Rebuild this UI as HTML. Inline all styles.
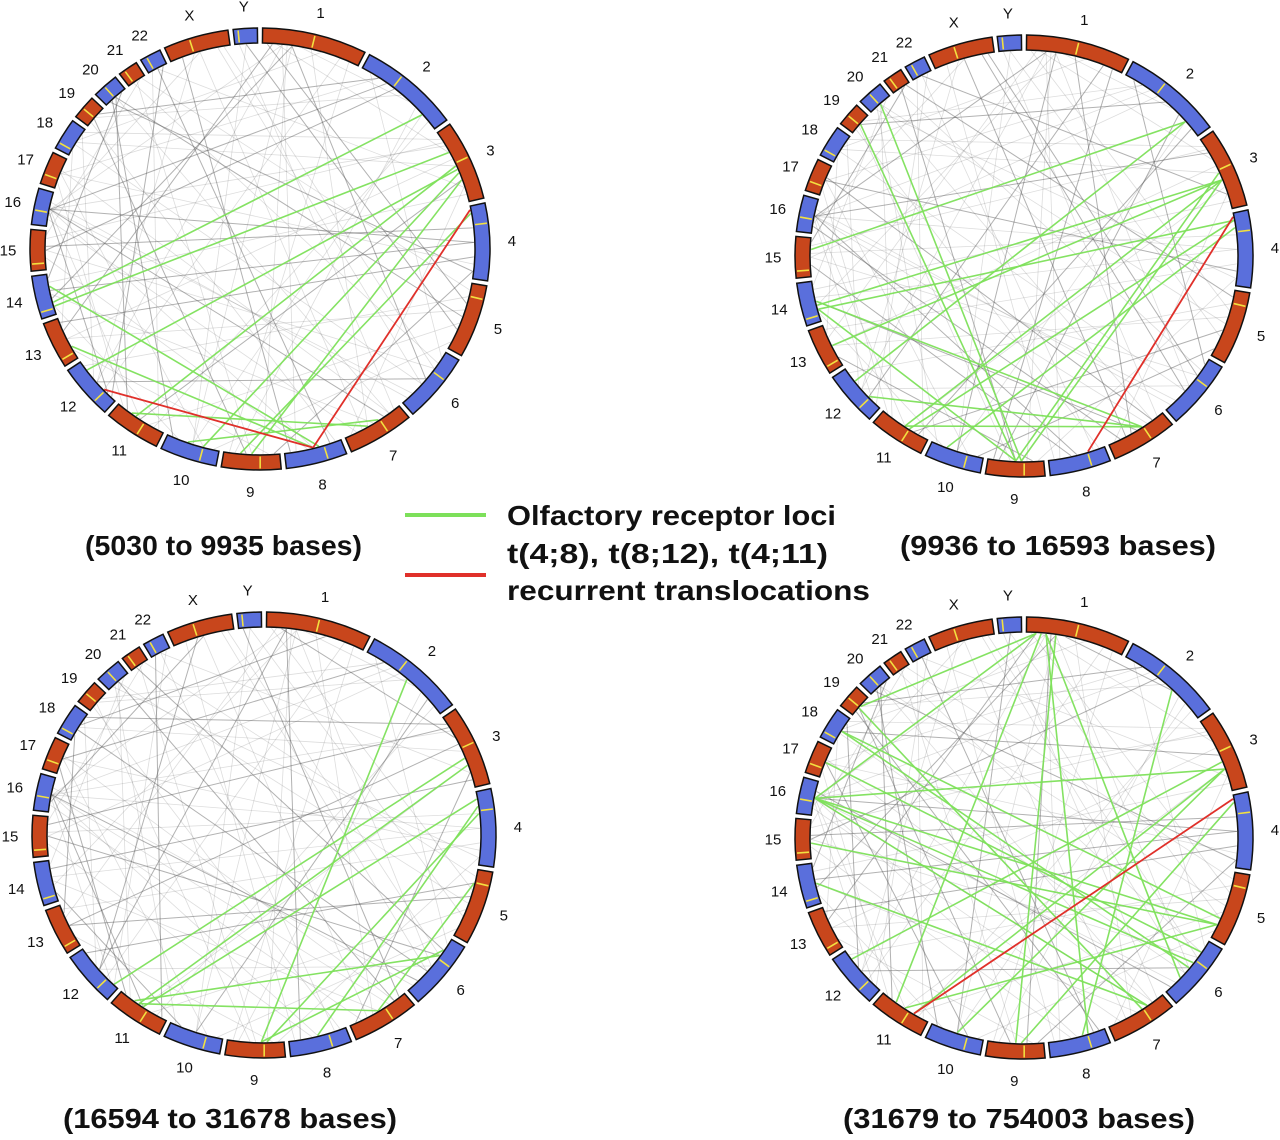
<!DOCTYPE html>
<html><head><meta charset="utf-8"><style>
html,body{margin:0;padding:0;background:#fff;}
svg{display:block;font-family:"Liberation Sans",sans-serif;}
.cap{font-weight:bold;font-size:28px;fill:#111;}
.lab{font-size:15px;fill:#111;}
</style></head><body>
<svg id="fig" width="1280" height="1140" viewBox="0 0 1280 1140">
<g id="legend">
<line x1="405" y1="515" x2="486" y2="515" stroke="#7de05a" stroke-width="4"/>
<text class="cap" x="507" y="525" textLength="329" lengthAdjust="spacingAndGlyphs">Olfactory receptor loci</text>
<text class="cap" x="507" y="563" textLength="321" lengthAdjust="spacingAndGlyphs">t(4;8), t(8;12), t(4;11)</text>
<line x1="405" y1="575" x2="486" y2="575" stroke="#e0302a" stroke-width="4"/>
<text class="cap" x="507" y="600" textLength="363" lengthAdjust="spacingAndGlyphs">recurrent  translocations</text>
</g>
<text class="cap" x="85" y="555" textLength="277" lengthAdjust="spacingAndGlyphs">(5030 to 9935 bases)</text>
<text class="cap" x="900" y="555" textLength="316" lengthAdjust="spacingAndGlyphs">(9936 to 16593 bases)</text>
<text class="cap" x="63" y="1128" textLength="334" lengthAdjust="spacingAndGlyphs">(16594 to 31678 bases)</text>
<text class="cap" x="843" y="1128" textLength="352" lengthAdjust="spacingAndGlyphs">(31679 to 754003 bases)</text>
</svg>
<script>
const chrNames=["1","2","3","4","5","6","7","8","9","10","11","12","13","14","15","16","17","18","19","20","21","22","X","Y"];
const chrLengths=[249,243,198,191,181,171,159,146,141,136,135,134,115,107,102,90,81,78,59,63,48,51,155,57];
const centromeres=[.5,.38,.46,.26,.19,.35,.38,.31,.35,.3,.4,.27,.15,.15,.17,.4,.3,.2,.45,.45,.3,.3,.4,.2];
const grayLinks=[[16,.5,2,.3],[16,.5,3,.2],[16,.5,6,.8],[16,.5,7,.3],[16,.5,8,.5],[16,.5,11,.5],[16,.5,4,.5],[16,.5,1,.2],[1,.2,8,.8],[1,.25,9,.3],[1,.3,6,.5],[1,.3,10,.5],[1,.2,12,.5],[1,.3,14,.4],[1,.5,7,.6],[2,.2,17,.5],[2,.4,15,.5],[2,.5,19,.5],[3,.4,13,.5],[3,.5,18,.5],[5,.5,20,.5],[5,.6,11,.3],[6,.3,15,.5],[6,.5,12,.5],[7,.5,14,.5],[7,.2,20,.5],[8,.2,22,.5],[9,.5,21,.5],[10,.5,2,.8],[10,.3,17,.5],[11,.5,3,.7],[12,.3,1,.8],[13,.5,5,.4],[14,.6,4,.5],[15,.3,8,.6],[18,.4,6,.6],[19,.4,9,.6],[23,.5,7,.7],[23,.4,12,.5],[24,.5,10,.5],[24,.5,5,.7],[22,.5,3,.8],[21,.3,6,.2],[20,.5,11,.8],[17,.5,4,.8],[16,.3,23,.5],[1,.1,13,.7],[2,.7,9,.8],[1,.15,3,.3],[1,.4,2,.6],[16,.4,12,.2],[17,.6,7,.2],[18,.6,1,.6],[19,.7,2,.2],[13,.2,9,.2],[14,.2,10,.8],[15,.6,4,.3],[2,.9,11,.2],[3,.9,14,.8],[6,.9,16,.7],[8,.9,23,.2],[9,.9,1,.9],[5,.2,12,.9],[4,.7,13,.9],[7,.8,16,.2],[11,.1,22,.2],[10,.9,20,.3],[6,.6,23,.8],[3,.15,15,.8],[12,.6,18,.8],[1,.05,5,.3],[2,.1,6,.1],[3,.8,7,.9],[4,.9,9,.1],[5,.9,10,.1],[13,.8,18,.2],[14,.9,20,.8],[15,.9,21,.7],[17,.2,11,.9],[19,.2,8,.1],[22,.8,12,.1],[23,.9,6,.3],[24,.2,7,.1],[20,.2,4,.9],[21,.8,5,.1],[18,.9,3,.1]];
const panels=[
 {cx:260,cy:249,rx:230,ry:221,
  green:[[2,.8,14,.3],[3,.3,14,.2],[3,.5,11,.6],[3,.6,10,.3],[3,.7,9,.5],[4,.1,9,.7],[13,.3,8,.5],[7,.6,11,.7],[7,.4,10,.6],[14,.7,8,.4],[3,.55,12,.8]],
  red:[[4,.05,8,.5],[8,.5,12,.3]]},
 {cx:1024,cy:256,rx:229,ry:221,
  green:[[3,.6,13,.5],[3,.6,14,.4],[3,.6,11,.5],[3,.6,9,.4],[4,.1,14,.3],[4,.1,11,.4],[2,.8,15,.7],[2,.8,12,.7],[19,.5,9,.5],[20,.5,9,.4],[14,.3,9,.5],[7,.4,14,.5],[7,.4,11,.5],[7,.4,12,.3],[3,.5,9,.5],[4,.2,10,.7]],
  red:[[4,.05,8,.3]]},
 {cx:264,cy:835,rx:232,ry:223,
  green:[[2,.5,9,.4],[3,.7,11,.6],[4,.1,11,.5],[3,.6,12,.1],[4,.3,9,.3],[5,.2,7,.5],[4,.2,8,.5],[6,.3,11,.7],[7,.5,11,.6],[6,.2,9,.4]],
  red:[]},
 {cx:1024,cy:838,rx:229,ry:221,
  green:[[1,.1,19,.5],[1,.1,16,.5],[1,.15,11,.7],[1,.2,6,.7],[1,.2,8,.3],[16,.5,5,.8],[16,.5,6,.4],[16,.5,7,.3],[16,.5,3,.7],[18,.5,5,.7],[18,.5,6,.5],[3,.7,11,.3],[3,.7,10,.5],[3,.6,12,.8],[4,.1,9,.4],[5,.8,11,.5],[5,.8,15,.4],[6,.2,17,.5],[7,.3,14,.5],[2,.6,8,.4],[19,.4,7,.4],[1,.3,9,.5]],
  red:[[4,.05,11,.3]]}
];
const NS="http://www.w3.org/2000/svg";
const svg=document.getElementById('fig');
const GAP=1.3;
const total=chrLengths.reduce((a,b)=>a+b,0);
const scale=(360-GAP*chrLengths.length)/total;
const starts=[];let acc=GAP/2;
chrLengths.forEach((L,i)=>{starts.push(acc);acc+=L*scale+GAP;});
function ang(c,f){return starts[c-1]+chrLengths[c-1]*f*scale;}
function pt(p,deg,d){const a=(deg-90)*Math.PI/180;return [p.cx+(p.rx+d)*Math.cos(a),p.cy+(p.ry+d)*Math.sin(a)];}
function el(t,attrs,parent){const e=document.createElementNS(NS,t);for(const k in attrs)e.setAttribute(k,attrs[k]);parent.appendChild(e);return e;}
panels.forEach((p,pi)=>{
  const g=el('g',{},svg);
  
  
  const BW=15;
  function drawLink(l,color,w,op,name){
    const a=pt(p,ang(l[0],l[1]),-BW-1), b=pt(p,ang(l[2],l[3]),-BW-1);
    const ln=el('line',{x1:a[0],y1:a[1],x2:b[0],y2:b[1],stroke:color,'stroke-width':w,'stroke-opacity':op},g);
    
    
  }
  grayLinks.forEach((l,i)=>{
    const k=(i*7+pi*3)%10;
    drawLink(l,'#555',k<3?1.0:0.8,k<3?0.45:0.2,'gray-link');
  });
  p.green.forEach(l=>drawLink(l,'#7de05a',1.6,0.95,'olfactory-link'));
  p.red.forEach(l=>drawLink(l,'#e0302a',1.8,1,'translocation-link'));
  chrLengths.forEach((L,i)=>{
    const a0=starts[i], a1=starts[i]+L*scale;
    const o0=pt(p,a0,0),o1=pt(p,a1,0),i1=pt(p,a1,-BW),i0=pt(p,a0,-BW);
    const large=(a1-a0)>180?1:0;
    const d=`M${o0[0]},${o0[1]} A${p.rx},${p.ry} 0 ${large} 1 ${o1[0]},${o1[1]} L${i1[0]},${i1[1]} A${p.rx-BW},${p.ry-BW} 0 ${large} 0 ${i0[0]},${i0[1]} Z`;
    const s=el('path',{d:d,fill:i%2===0?'#c8461c':'#5a6fdc',stroke:'#111','stroke-width':1.5},g);
    
    
    const ca=a0+L*scale*centromeres[i];
    const c0=pt(p,ca,-1.5),c1=pt(p,ca,-BW+1.5);
    const cl=el('line',{x1:c0[0],y1:c0[1],x2:c1[0],y2:c1[1],stroke:'#f2e040','stroke-width':1.6},g);
    
    
    const lp=pt(p,(a0+a1)/2,22);
    const t=el('text',{x:lp[0],y:lp[1]+5,'text-anchor':'middle',class:'lab'},g);
    t.textContent=chrNames[i];
    
    
  });
});
</script>
</body></html>
